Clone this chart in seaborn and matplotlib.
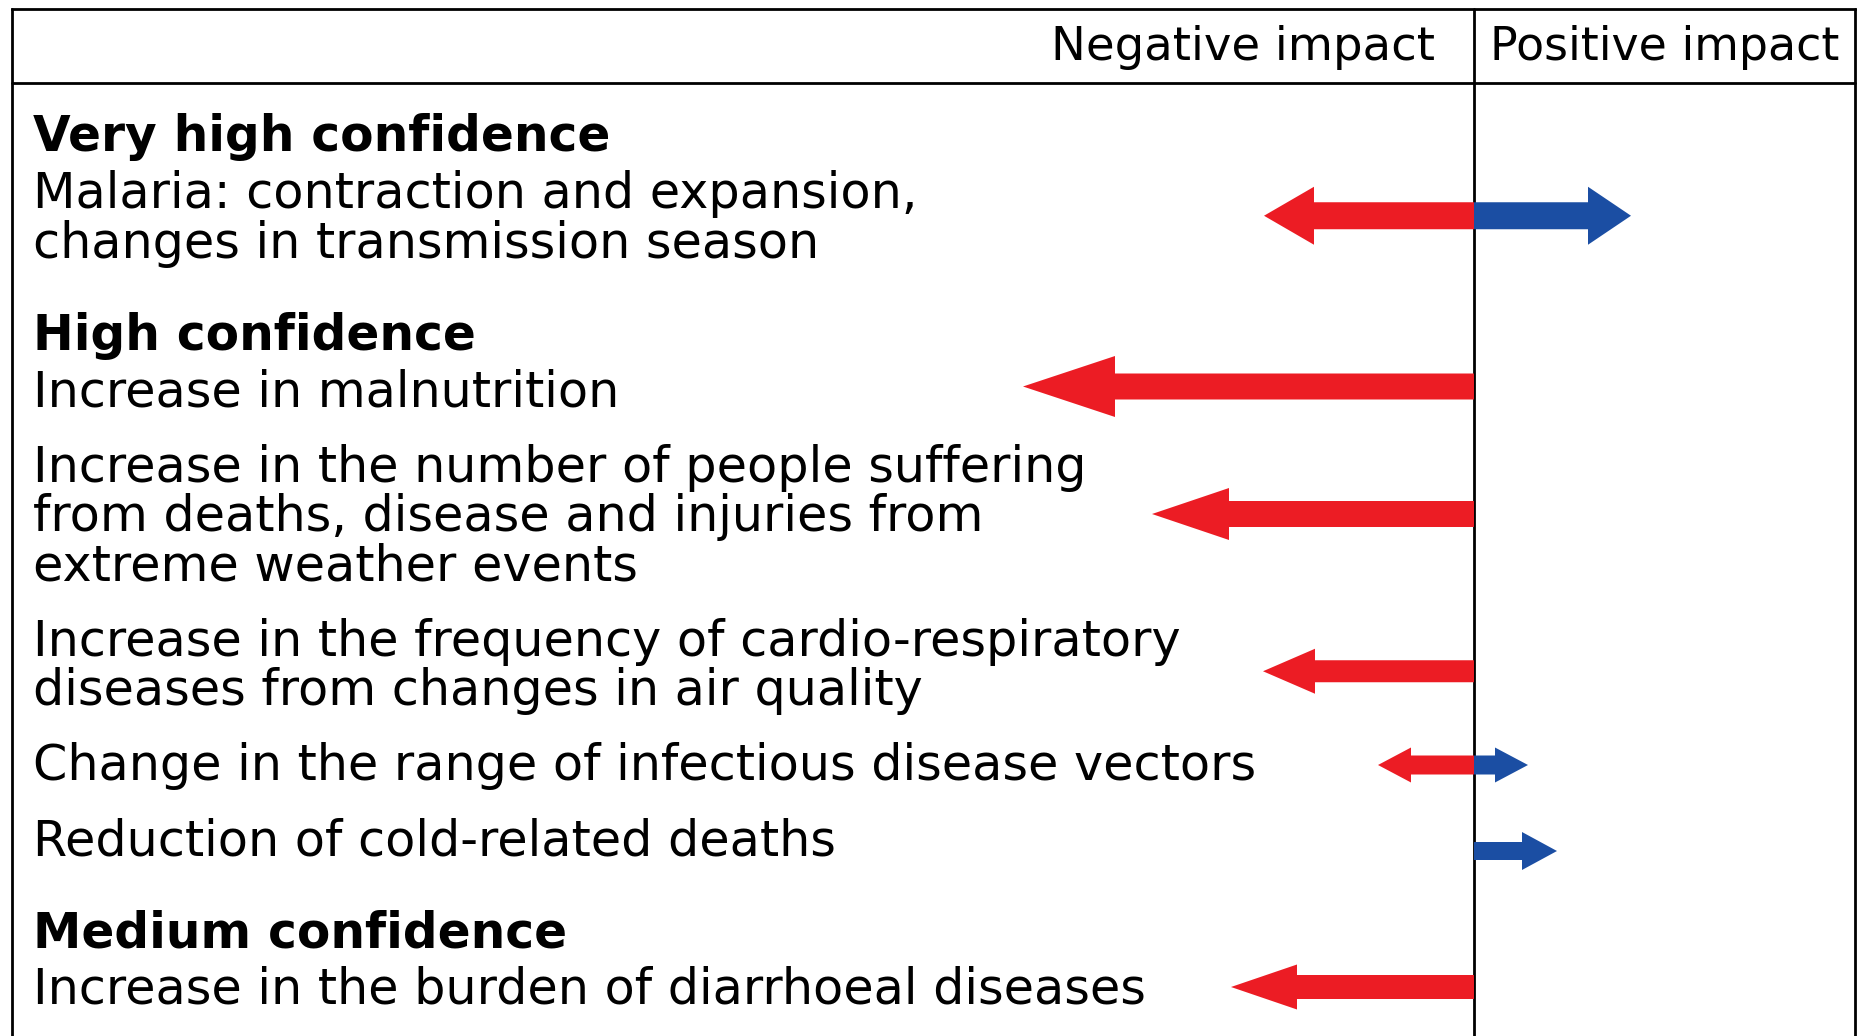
import matplotlib
matplotlib.use("Agg")
import matplotlib.pyplot as plt
import seaborn as sns
import pandas as pd

# Data (relative arrow length, 1 unit ~ 100 px)
groups = ["Very high confidence", "High confidence", "High confidence", "High confidence",
          "High confidence", "High confidence", "Medium confidence"]
impacts = [
    "Malaria: contraction and expansion,\nchanges in transmission season",
    "Increase in malnutrition",
    "Increase in the number of people suffering\nfrom deaths, disease and injuries from\nextreme weather events",
    "Increase in the frequency of cardio-respiratory\ndiseases from changes in air quality",
    "Change in the range of infectious disease vectors",
    "Reduction of cold-related deaths",
    "Increase in the burden of diarrhoeal diseases",
]
negative = [2.10, 4.51, 3.22, 2.11, 0.96, 0.0, 2.43]
positive = [1.57, 0.0, 0.0, 0.0, 0.54, 0.83, 0.0]

df = pd.DataFrame({"group": groups, "impact": impacts,
                   "negative": negative, "positive": positive})

# arrow styles per row: shaft width, head width (px), head length (x units), y nudge (px)
shaft_w = [27, 26, 26, 22, 19, 18, 24]
head_w = [58, 61, 52, 45, 35, 38, 45]
head_l = [0.50, 0.92, 0.77, 0.52, 0.33, 0.35, 0.66]
nudge = [0, -3, 0, 8, 2, 13, 0]

RED = "#ec1c24"
BLUE = "#1b4ea3"

sns.set_theme(style="white")
plt.rcParams["font.family"] = ["DejaVu Sans"]
plt.rcParams["text.color"] = "black"

W, H = 1860, 1036
CX = 1474  # pixel of the centre line
fig = plt.figure(figsize=(W / 100, H / 100), dpi=100)
ax = fig.add_axes([0, 0, 1, 1])
ax.set_xlim(-CX / 100, (W - CX) / 100)
ax.set_ylim(H, 0)
ax.axis("off")


def px(x):
    return (x - CX) / 100


# frame
lw = 2.0
ax.plot([px(12), px(12)], [9, H + 5], color="black", lw=lw)
ax.plot([px(1855), px(1855)], [9, H + 5], color="black", lw=lw)
ax.plot([0, 0], [9, H + 5], color="black", lw=lw)
ax.plot([px(12), px(1855)], [9, 9], color="black", lw=lw, solid_capstyle="projecting")
ax.plot([px(12), px(1855)], [83, 83], color="black", lw=lw)

ax.text(px(1435), 47, "Negative impact", ha="right", va="center", fontsize=33.5)
ax.text(px(1665), 47, "Positive impact", ha="center", va="center", fontsize=33)

# layout of the text blocks
pitch = 49.5
y = 134
prev_group = None
first = True
tx = px(33)
for i, row in df.iterrows():
    if row["group"] != prev_group:
        if not first:
            y += 92
        ax.text(tx, y + 17, row["group"], ha="left", va="baseline",
                fontsize=35, fontweight="bold")
        y += 57
        prev_group = row["group"]
    elif not first:
        y += 75
    lines = row["impact"].split("\n")
    top = y
    for line in lines:
        ax.text(tx, y + 17, line, ha="left", va="baseline", fontsize=35.5)
        y += pitch
    y -= pitch
    yc = (top + y) / 2 + nudge[i]
    if row["negative"] > 0:
        ax.arrow(0, yc, -row["negative"], 0, width=shaft_w[i], head_width=head_w[i],
                 head_length=head_l[i], length_includes_head=True,
                 color=RED, lw=0, zorder=3)
    if row["positive"] > 0:
        ax.arrow(0, yc, row["positive"], 0, width=shaft_w[i], head_width=head_w[i],
                 head_length=min(head_l[i], 0.43), length_includes_head=True,
                 color=BLUE, lw=0, zorder=3)
    first = False

fig.savefig("out.png", dpi=100)
